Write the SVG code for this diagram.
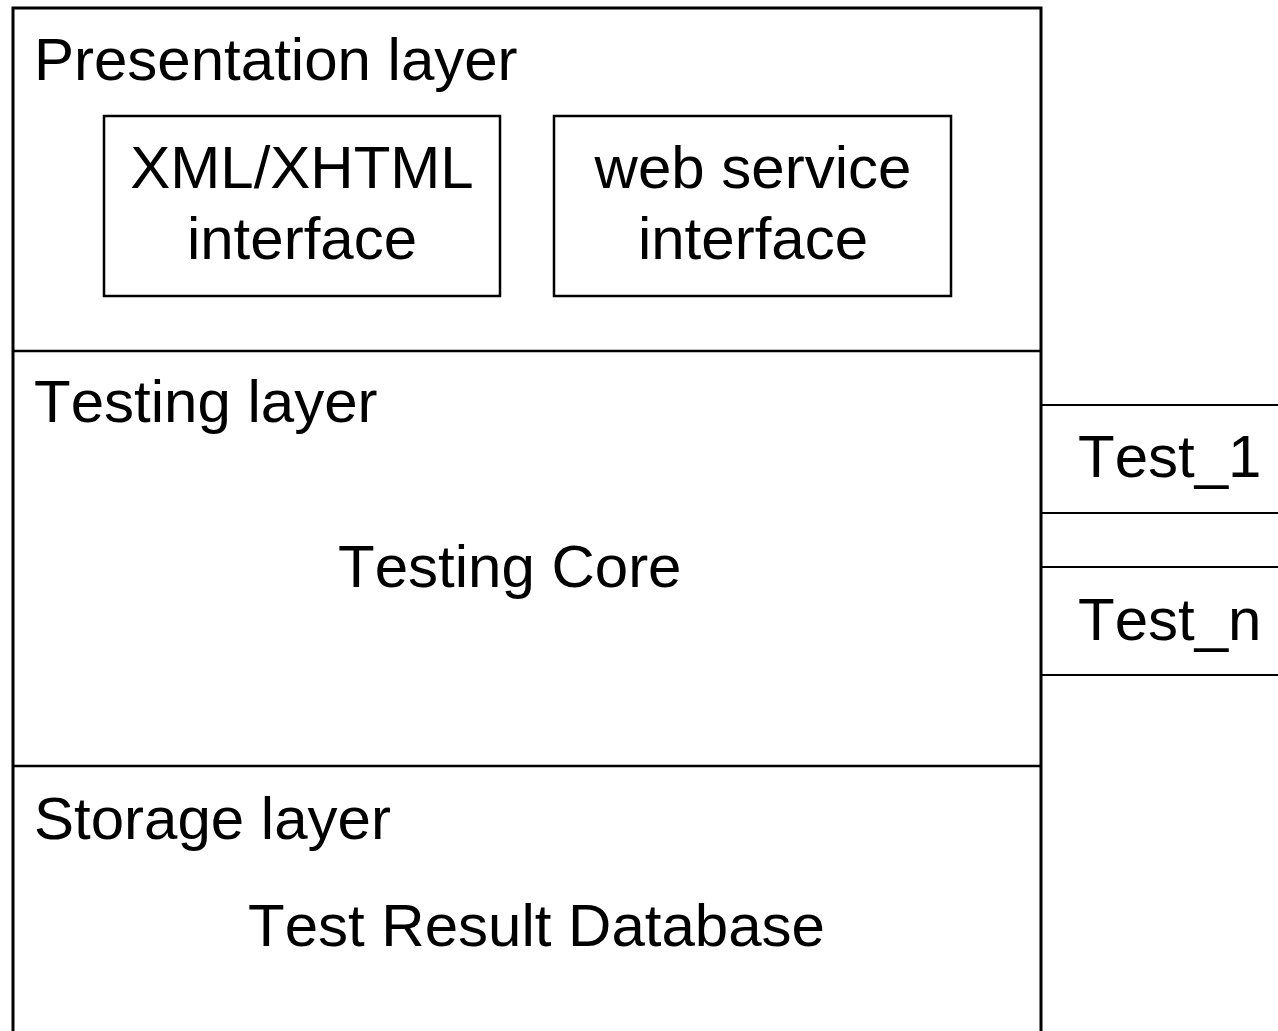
<svg xmlns="http://www.w3.org/2000/svg" width="1278" height="1031" viewBox="0 0 1278 1031">
<style>
.t{font-family:"Liberation Sans",Arial,sans-serif;font-size:60px;fill:#000;font-kerning:none}
.m{text-anchor:middle}
.f{fill:none;stroke:#000}
</style>
<rect width="1278" height="1031" fill="#fff"/>
<g id="presentation-layer">
<path class="f" stroke-width="3" d="M13,1040 V8 H1041 V1040"/>
<text class="t" x="34" y="80">Presentation layer</text>
</g>
<g id="xml-xhtml-interface">
<rect class="f" stroke-width="2.5" x="104" y="116" width="396" height="180"/>
<text class="t m" x="302" y="188">XML/XHTML</text>
<text class="t m" x="302" y="259">interface</text>
</g>
<g id="web-service-interface">
<rect class="f" stroke-width="2.5" x="554" y="116" width="397" height="180"/>
<text class="t m" x="753" y="188">web service</text>
<text class="t m" x="753" y="259">interface</text>
</g>
<g id="testing-layer">
<line class="f" stroke-width="2.5" x1="13" y1="351" x2="1041" y2="351"/>
<text class="t" x="34" y="422">Testing layer</text>
<text class="t" x="338" y="587">Testing Core</text>
</g>
<g id="storage-layer">
<line class="f" stroke-width="2.5" x1="13" y1="766" x2="1041" y2="766"/>
<text class="t" x="34" y="839">Storage layer</text>
<text class="t" x="248" y="946">Test Result Database</text>
</g>
<g id="test-1">
<path class="f" stroke-width="2" d="M1041,405 H1280 M1041,513 H1280"/>
<text class="t" x="1078" y="477">Test_1</text>
</g>
<g id="test-n">
<path class="f" stroke-width="2" d="M1041,567 H1280 M1041,675 H1280"/>
<text class="t" x="1078" y="640">Test_n</text>
</g>
<g id="connectors"></g>
</svg>
